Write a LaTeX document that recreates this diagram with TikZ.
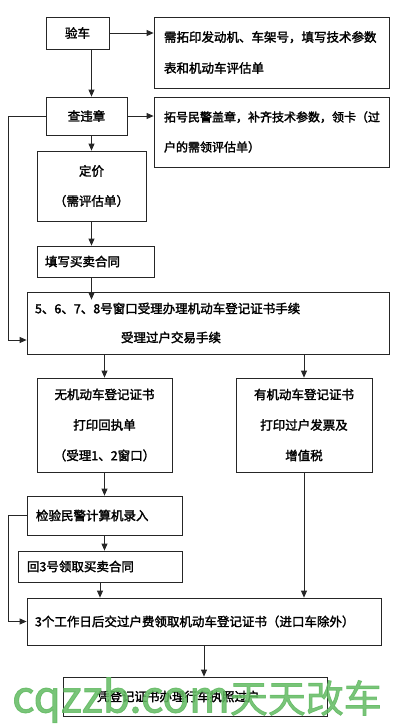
\documentclass[tikz,border=0pt]{standalone}
\usepackage{fontspec}
\newfontfamily\cjk[FakeBold=2]{Noto Sans CJK SC}
\newfontfamily\wmfont[FakeBold=2]{Noto Sans CJK SC}
\usetikzlibrary{arrows.meta}
\definecolor{wmgreen}{RGB}{98,186,98}
\tikzset{
  stepbox/.style={shape=rectangle,draw=black!85,line width=0.8pt,inner sep=0pt,font=\cjk\fontsize{12.5}{31}\selectfont},
}
\begin{document}
\begin{tikzpicture}[x=1pt,y=-1pt,>={Triangle[length=7pt,width=6pt]},line width=0.8pt,draw=black!85]
\useasboundingbox (0,0) rectangle (400,724);

\node[stepbox,align=center,text width=63pt,minimum height=32pt] (check) at (77.5,33) {验车};
\node[stepbox,align=left,text width=215pt,inner xsep=10pt,minimum height=71pt] (note1) at (271.5,52.5) {需拓印发动机、车架号，填写技术参数\\表和机动车评估单};
\node[stepbox,align=center,text width=81pt,minimum height=38pt] (rule) at (86.5,116) {查违章};
\node[stepbox,align=left,text width=215pt,inner xsep=10pt,minimum height=70pt,font=\cjk\fontsize{12}{30}\selectfont] (note2) at (271.5,132) {拓号民警盖章，补齐技术参数，领卡（过\\户的需领评估单）};
\node[stepbox,align=center,text width=109pt,minimum height=70pt,font=\cjk\fontsize{12.5}{30}\selectfont] (price) at (91.5,186) {定价\\（需评估单）};
\node[stepbox,align=left,text width=101pt,inner xsep=8pt,minimum height=31pt] (contract) at (95.5,261.5) {填写买卖合同};
\node[stepbox,align=left,text width=346pt,inner xsep=8pt,minimum height=62pt,font=\cjk\fontsize{12.5}{29}\selectfont] (window) at (208,323) {5、6、7、8号窗口受理办理机动车登记证书手续\\\hspace*{86pt}受理过户交易手续};

\node[stepbox,align=center,text width=135pt,minimum height=94pt,font=\cjk\fontsize{12.5}{30.5}\selectfont] (noreg) at (104.5,425) {无机动车登记证书\\打印回执单\\（受理1、2窗口）};
\node[stepbox,align=center,text width=136pt,minimum height=94pt,font=\cjk\fontsize{12.5}{30.5}\selectfont] (hasreg) at (304,425) {有机动车登记证书\\打印过户发票及\\增值税};
\node[stepbox,align=left,text width=137pt,inner xsep=9pt,minimum height=39pt] (police) at (104.5,515.5) {检验民警计算机录入};
\node[stepbox,align=left,text width=146pt,inner xsep=9pt,minimum height=31pt] (back) at (100,566.5) {回3号领取买卖合同};
\node[stepbox,align=left,text width=338pt,inner xsep=8pt,minimum height=47pt] (fee) at (204,621.5) {3个工作日后交过户费领取机动车登记证书（进口车除外）};
\node[stepbox,align=left,text width=196pt,inner xsep=34pt,minimum height=39pt] (license) at (195,696.5) {凭登记证书办理行车执照过户};

\path [->] (check.east) edge (check.east -| note1.west);
\path [->] (check.south -| price.north) edge (rule.north -| price.north);
\path [->] (rule.east) edge (rule.east -| note2.west);
\path [->] (rule.south -| price.north) edge (price.north);
\path [->] (price.south) edge (contract.north -| price.south);
\path [->] (contract.south -| price.south) edge ([yshift=-8pt]window.north -| price.south);
\draw [->] (rule.west) -- ++(-37pt,0) |- ([yshift=-17pt]window.west);

\path [->] (window.south -| noreg.north) edge (noreg.north);
\path [->] (window.south -| hasreg.north) edge (hasreg.north);
\path [->] (noreg.south) edge (police.north);
\path [->] (police.south) edge (police.south |- back.north);
\draw [->] (police.west) -- ++(-18pt,0) |- (fee.west);
\path [->] (back.south) edge (back.south |- fee.north);
\path [->] (hasreg.south) edge (hasreg.south |- fee.north);
\path [->] (fee.south) edge (fee.south |- license.north);

\node[text=wmgreen,opacity=0.85,inner sep=0pt,font=\wmfont\fontsize{38}{38}\selectfont] (mark) at (197,700) {{\fontsize{44}{44}\selectfont cqzzb.com}天天改车};
\end{tikzpicture}
\end{document}
